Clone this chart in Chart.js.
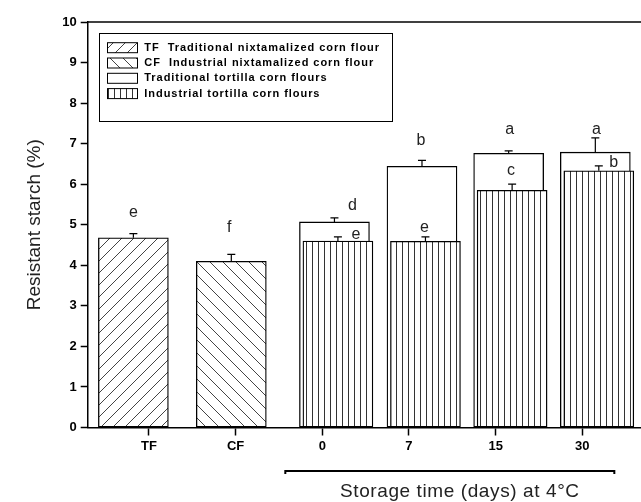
<!DOCTYPE html>
<html><head><meta charset="utf-8">
<script src="https://cdn.jsdelivr.net/npm/chart.js@4.4.0/dist/chart.umd.min.js"></script>
<style>html,body{margin:0;padding:0;background:#fff;}canvas{display:block;}</style>
</head><body>
<canvas id="c" width="641" height="502"></canvas>
<script>
// ---- data ----
const xTickLabels = ['TF', 'CF', '0', '7', '15', '30'];
const seriesNames = ['TF  Traditional nixtamalized corn flour', 'CF  Industrial nixtamalized corn flour', 'Traditional tortilla corn flours', 'Industrial tortilla corn flours'];
const barX = [0.82, 1.95, 3.14, 4.15, 5.15, 6.15];   // x of each bar group on the axis
const tfValues = [4.68];  const tfErr = [0.10];  const tfLetters = ['e'];
const cfValues = [4.10];  const cfErr = [0.17];  const cfLetters = ['f'];
const tradValues = [5.07, 6.44, 6.76, 6.79]; const tradErr = [0.10, 0.15, 0.06, 0.35]; const tradLetters = ['d', 'b', 'a', 'a'];
const indValues = [4.60, 4.59, 5.85, 6.33];  const indErr = [0.10, 0.11, 0.15, 0.12];  const indLetters = ['e', 'e', 'c', 'b'];
const yTitle = 'Resistant starch (%)';
const xNote = 'Storage time (days) at 4°C';

// ---- layout / style (not data) ----
const FONT = "'Liberation Sans', Arial, sans-serif";
const indShift = 0.04;
const letterOffsets = { // px offsets of letters relative to error-bar cap
  tf: [[0, -21]], cf: [[-2, -27]],
  trad: [[18, -12], [-1, -20], [1, -21], [1, -8]],
  ind: [[18, -2], [-1, -9], [-1, -14], [15, -3]]
};

function makePattern(kind) {
  const c = document.createElement('canvas');
  const g = c.getContext('2d');
  if (kind === 'vert') {
    c.width = 6; c.height = 4;
    g.fillStyle = '#fff'; g.fillRect(0, 0, 6, 4);
    g.fillStyle = '#333'; g.fillRect(0, 0, 1, 4);
  } else if (kind === 'slash') {
    const s = 12; c.width = s; c.height = s;
    g.fillStyle = '#fff'; g.fillRect(0, 0, s, s);
    g.strokeStyle = '#444'; g.lineWidth = 1;
    g.beginPath();
    g.moveTo(0, s); g.lineTo(s, 0);
    g.moveTo(-2, 2); g.lineTo(2, -2);
    g.moveTo(s - 2, s + 2); g.lineTo(s + 2, s - 2);
    g.stroke();
  } else if (kind === 'back') {
    const s = 13; c.width = s; c.height = s;
    g.fillStyle = '#fff'; g.fillRect(0, 0, s, s);
    g.strokeStyle = '#444'; g.lineWidth = 1;
    g.beginPath();
    g.moveTo(0, 0); g.lineTo(s, s);
    g.moveTo(-2, s - 2); g.lineTo(2, s + 2);
    g.moveTo(s - 2, -2); g.lineTo(s + 2, 2);
    g.stroke();
  }
  return g.createPattern(c, 'repeat');
}
const patSlash = makePattern('slash');
const patBack = makePattern('back');
const patVert = makePattern('vert');

const common = { borderColor: '#000', borderWidth: 1.3, borderSkipped: false, barThickness: 70, grouped: false };
const datasets = [
  Object.assign({ label: seriesNames[3], key: 'ind', order: 0, backgroundColor: patVert,
    data: indValues.map((v, i) => ({ x: barX[i + 2] + indShift, y: v })), errors: indErr, letters: indLetters }, common),
  Object.assign({ label: seriesNames[2], key: 'trad', order: 1, backgroundColor: '#fff',
    data: tradValues.map((v, i) => ({ x: barX[i + 2], y: v })), errors: tradErr, letters: tradLetters }, common),
  Object.assign({ label: seriesNames[0], key: 'tf', order: 2, backgroundColor: patSlash,
    data: tfValues.map((v, i) => ({ x: barX[i], y: v })), errors: tfErr, letters: tfLetters }, common),
  Object.assign({ label: seriesNames[1], key: 'cf', order: 3, backgroundColor: patBack,
    data: cfValues.map((v, i) => ({ x: barX[i + 1], y: v })), errors: cfErr, letters: cfLetters }, common)
];

const extras = {
  id: 'extras',
  beforeDraw(chart) {
    const ctx = chart.ctx;
    ctx.save(); ctx.fillStyle = '#fff'; ctx.fillRect(0, 0, chart.width, chart.height); ctx.restore();
  },
  afterDatasetsDraw(chart) {
    const ctx = chart.ctx, ys = chart.scales.y;
    ctx.save();
    chart.data.datasets.forEach((ds, di) => {
      const meta = chart.getDatasetMeta(di);
      meta.data.forEach((el, i) => {
        const v = ds.data[i].y, e = ds.errors[i];
        const yc = ys.getPixelForValue(v + e);
        ctx.strokeStyle = '#000'; ctx.lineWidth = 1.2;
        ctx.beginPath();
        ctx.moveTo(el.x, el.y); ctx.lineTo(el.x, yc);
        ctx.moveTo(el.x - 4, yc); ctx.lineTo(el.x + 4, yc);
        ctx.stroke();
        const off = letterOffsets[ds.key][i];
        ctx.fillStyle = '#222';
        ctx.font = '16px ' + FONT;
        ctx.textAlign = 'center'; ctx.textBaseline = 'middle';
        ctx.fillText(ds.letters[i], el.x + off[0], yc + off[1]);
      });
    });
    ctx.restore();
  },
  afterDraw(chart) {
    const ctx = chart.ctx, a = chart.chartArea, xs = chart.scales.x;
    ctx.save();
    // top frame line
    ctx.strokeStyle = '#000'; ctx.lineWidth = 1.5;
    ctx.beginPath(); ctx.moveTo(a.left, a.top); ctx.lineTo(a.right, a.top); ctx.stroke();
    // legend
    const L = { left: 99, top: 33, right: 392, bottom: 121 };
    ctx.lineWidth = 1; ctx.strokeStyle = '#000';
    ctx.strokeRect(L.left + 0.5, L.top + 0.5, L.right - L.left, L.bottom - L.top);
    const order = [2, 3, 1, 0];
    ctx.font = 'bold 11px ' + FONT;
    ctx.textAlign = 'left'; ctx.textBaseline = 'middle';
    try { ctx.letterSpacing = '0.95px'; } catch (e) {}
    order.forEach((di, r) => {
      const ds = chart.data.datasets[di];
      const y = 47.7 + r * 15.3;
      ctx.fillStyle = ds.backgroundColor;
      ctx.fillRect(107.5, y - 5, 30, 10);
      ctx.strokeStyle = '#000'; ctx.lineWidth = 1;
      ctx.strokeRect(107.5, y - 5, 30, 10);
      ctx.fillStyle = '#000';
      ctx.fillText(ds.label, 144.3, y);
    });
    try { ctx.letterSpacing = '0px'; } catch (e) {}
    // bracket under storage groups
    const x1 = xs.getPixelForValue(3) - 37, x2 = xs.getPixelForValue(6) + 32, yb = 471;
    ctx.lineWidth = 2; ctx.strokeStyle = '#000';
    ctx.beginPath();
    ctx.moveTo(x1, yb + 3); ctx.lineTo(x1, yb); ctx.lineTo(x2, yb); ctx.lineTo(x2, yb + 3);
    ctx.stroke();
    ctx.fillStyle = '#222'; ctx.font = '19px ' + FONT;
    ctx.textAlign = 'center'; ctx.textBaseline = 'middle';
    try { ctx.letterSpacing = '0.6px'; } catch (e) {}
    ctx.fillText(xNote, (x1 + x2) / 2 + 10, 492);
    ctx.restore();
  }
};

new Chart(document.getElementById('c'), {
  type: 'bar',
  data: { datasets },
  options: {
    responsive: false,
    animation: false,
    events: [],
    layout: { padding: { left: 19, top: 22, right: 0, bottom: 0 } },
    plugins: { legend: { display: false }, tooltip: { enabled: false } },
    scales: {
      x: {
        type: 'linear', min: 0.293, max: 6.677, offset: false,
        afterBuildTicks: (s) => { s.ticks = xTickLabels.map((_, i) => ({ value: i + 1 })); },
        afterFit: (s) => { s.height = 74.5; },
        ticks: { callback: (v) => xTickLabels[Math.round(v) - 1], font: { family: FONT, size: 13, weight: 'bold' }, color: '#000', padding: 3, maxRotation: 0, autoSkip: false },
        grid: { drawOnChartArea: false, drawTicks: true, tickLength: 8, tickWidth: 1.5, tickColor: '#000', offset: false },
        border: { display: true, color: '#000', width: 1.5 }
      },
      y: {
        min: 0, max: 10,
        afterFit: (s) => { s.width = 87.7 - 19; },
        ticks: { stepSize: 1, font: { family: FONT, size: 13, weight: 'bold' }, color: '#000', padding: 4 },
        grid: { drawOnChartArea: false, drawTicks: true, tickLength: 7, tickWidth: 1.5, tickColor: '#000' },
        border: { display: true, color: '#000', width: 1.5 },
        title: { display: true, text: yTitle, font: { family: FONT, size: 19 }, color: '#222', padding: { top: 4, bottom: 4 } }
      }
    }
  },
  plugins: [extras]
});
</script>
</body></html>
